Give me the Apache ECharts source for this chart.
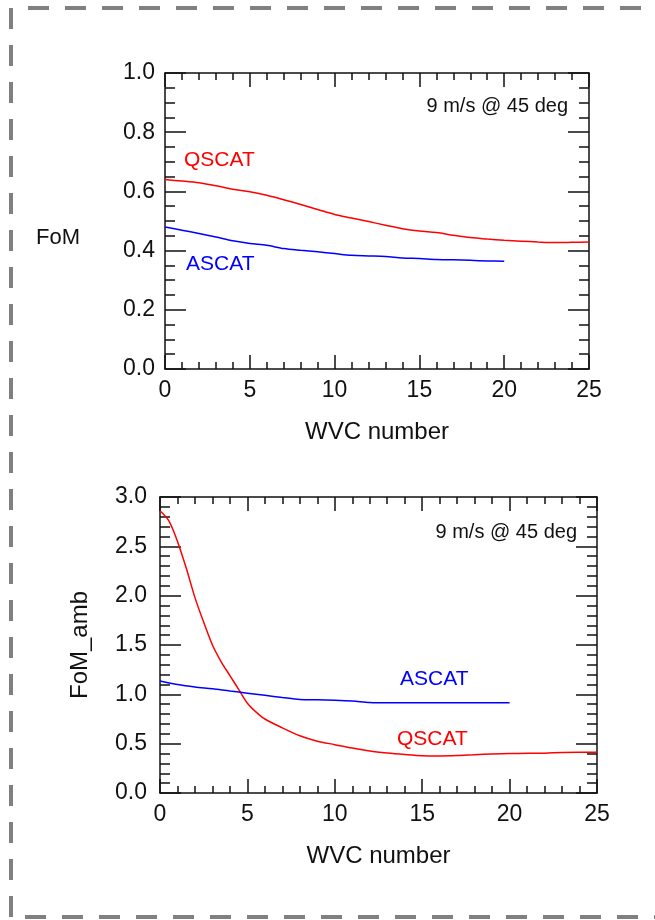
<!DOCTYPE html>
<html>
<head>
<meta charset="utf-8">
<style>
  html, body { margin: 0; padding: 0; background: #ffffff; }
  #chart { width: 655px; height: 920px; }
</style>
<script src="https://cdn.jsdelivr.net/npm/echarts@6/dist/echarts.min.js"></script>
</head>
<body>
<div id="chart"></div>
<script>
// ---- Data ----
const topX_Q = [0,1,2,3,4,5,6,7,8,9,10,11,12,13,14,15,16,17,18,19,20,21,22,23,24,25];
const topFoM_Q = [0.640,0.635,0.629,0.619,0.607,0.599,0.587,0.572,0.556,0.539,0.522,0.510,0.498,0.486,0.474,0.466,0.461,0.452,0.444,0.439,0.435,0.432,0.429,0.427,0.428,0.429];
const topX_A = [0,1,2,3,4,5,6,7,8,9,10,11,12,13,14,15,16,17,18,19,20];
const topFoM_A = [0.480,0.469,0.458,0.446,0.433,0.424,0.418,0.407,0.401,0.396,0.390,0.384,0.382,0.380,0.375,0.373,0.370,0.369,0.367,0.365,0.364];

const botX_Q = [0,0.5,1,1.5,2,2.5,3,3.5,4,4.5,5,5.5,6,7,8,9,10,11,12,13,14,15,16,17,18,19,20,21,22,23,24,25];
const botAmb_Q = [2.86,2.76,2.55,2.28,1.98,1.73,1.50,1.33,1.19,1.05,0.91,0.82,0.75,0.66,0.58,0.525,0.49,0.455,0.425,0.405,0.39,0.378,0.376,0.38,0.388,0.395,0.40,0.402,0.404,0.41,0.412,0.412];
const botX_A = [0,1,2,3,4,5,6,7,8,9,10,11,12,13,14,15,16,17,18,19,20];
const botAmb_A = [1.135,1.10,1.075,1.056,1.033,1.012,0.99,0.968,0.948,0.945,0.94,0.932,0.918,0.915,0.915,0.915,0.915,0.915,0.915,0.915,0.915];

const xTickLabels = ['0','5','10','15','20','25'];
const topYTicks = ['0.0','0.2','0.4','0.6','0.8','1.0'];
const botYTicks = ['0.0','0.5','1.0','1.5','2.0','2.5','3.0'];
const annotation = '9 m/s @ 45 deg';
const xTitle = 'WVC number';
const topYTitle = 'FoM';
const botYTitle = 'FoM_amb';
const seriesNames = ['QSCAT', 'ASCAT'];

// ---- Styling ----
const FONT = "'Liberation Sans', Arial, Helvetica, sans-serif";
const INK = '#111111';
const RED = '#ff0000';
const BLUE = '#0000ff';
const TICK_FS = 23;
const TITLE_FS = 24;

function pairs(xs, ys) { return xs.map((x, i) => [x, ys[i]]); }

function xAxis(gridIndex, position, show) {
  return {
    type: 'value', gridIndex, position, min: 0, max: 25, interval: 5,
    axisLine: { show: true, onZero: false, lineStyle: { color: INK, width: 1.5 } },
    axisTick: { show: true, inside: true, length: 14, lineStyle: { color: INK, width: 1.5 } },
    minorTick: { show: true, splitNumber: 5, length: 7, lineStyle: { color: INK, width: 1.5 } },
    splitLine: { show: false },
    axisLabel: show ? {
      show: true, margin: 10, fontFamily: FONT, fontSize: TICK_FS, color: INK,
      formatter: v => xTickLabels[Math.round(v / 5)]
    } : { show: false },
    name: show ? xTitle : '',
    nameLocation: 'middle', nameGap: show ? 51 : 0,
    nameTextStyle: { fontFamily: FONT, fontSize: TITLE_FS, color: INK }
  };
}

function yAxis(gridIndex, position, max, interval, minorSplit, labels, show, margin, nameCfg) {
  const a = {
    type: 'value', gridIndex, position, min: 0, max, interval,
    axisLine: { show: true, onZero: false, lineStyle: { color: INK, width: 1.5 } },
    axisTick: { show: true, inside: true, length: 21, lineStyle: { color: INK, width: 1.5 } },
    minorTick: { show: true, splitNumber: minorSplit, length: 10, lineStyle: { color: INK, width: 1.5 } },
    splitLine: { show: false },
    axisLabel: show ? {
      show: true, margin: margin, fontFamily: FONT, fontSize: TICK_FS, color: INK,
      formatter: v => labels[Math.round(v / interval)]
    } : { show: false }
  };
  if (nameCfg) Object.assign(a, nameCfg);
  return a;
}

const chart = echarts.init(document.getElementById('chart'), null, { renderer: 'canvas' });

const option = {
  animation: false,
  backgroundColor: '#ffffff',
  grid: [
    { left: 165, top: 73, width: 424, height: 296, containLabel: false, outerBoundsMode: 'none' },
    { left: 160, top: 497, width: 437, height: 296, containLabel: false, outerBoundsMode: 'none' }
  ],
  xAxis: [
    xAxis(0, 'bottom', true),
    xAxis(0, 'top', false),
    xAxis(1, 'bottom', true),
    xAxis(1, 'top', false)
  ],
  yAxis: [
    yAxis(0, 'left', 1.0, 0.2, 4, topYTicks, true, 10),
    yAxis(0, 'right', 1.0, 0.2, 4, topYTicks, false, 10),
    yAxis(1, 'left', 3.0, 0.5, 5, botYTicks, true, 13, {
      name: botYTitle, nameLocation: 'middle', nameGap: 68, nameRotate: 90,
      nameTextStyle: { fontFamily: FONT, fontSize: TITLE_FS, color: INK }
    }),
    yAxis(1, 'right', 3.0, 0.5, 5, botYTicks, false, 10)
  ],
  series: [
    { name: seriesNames[0], type: 'line', xAxisIndex: 0, yAxisIndex: 0, data: pairs(topX_Q, topFoM_Q),
      showSymbol: false, smooth: 0.3, lineStyle: { color: RED, width: 1.5 }, silent: true },
    { name: seriesNames[1], type: 'line', xAxisIndex: 0, yAxisIndex: 0, data: pairs(topX_A, topFoM_A),
      showSymbol: false, smooth: 0.3, lineStyle: { color: BLUE, width: 1.5 }, silent: true },
    { name: seriesNames[0], type: 'line', xAxisIndex: 2, yAxisIndex: 2, data: pairs(botX_Q, botAmb_Q),
      showSymbol: false, smooth: 0.3, lineStyle: { color: RED, width: 1.5 }, silent: true },
    { name: seriesNames[1], type: 'line', xAxisIndex: 2, yAxisIndex: 2, data: pairs(botX_A, botAmb_A),
      showSymbol: false, smooth: 0.3, lineStyle: { color: BLUE, width: 1.5 }, silent: true }
  ],
  graphic: [
    // dashed page frame
    { type: 'line', silent: true, shape: { x1: 28, y1: 8, x2: 700, y2: 8 },
      style: { stroke: '#808080', lineWidth: 4, lineDash: [21, 16] } },
    { type: 'line', silent: true, shape: { x1: 11, y1: 8, x2: 11, y2: 919 },
      style: { stroke: '#808080', lineWidth: 4, lineDash: [21, 16] } },
    { type: 'line', silent: true, shape: { x1: 25, y1: 917, x2: 700, y2: 917 },
      style: { stroke: '#808080', lineWidth: 4, lineDash: [21, 16] } },
    // top panel texts
    { type: 'text', left: 36, top: 227, style: { text: topYTitle, font: "22px " + FONT, fill: INK } },
    { type: 'text', right: 655 - 568, top: 96, style: { text: annotation, font: "20px " + FONT, fill: INK } },
    { type: 'text', left: 184, top: 150, style: { text: seriesNames[0], font: "21px " + FONT, fill: RED } },
    { type: 'text', left: 186, top: 254, style: { text: seriesNames[1], font: "21px " + FONT, fill: BLUE } },
    // bottom panel texts
    { type: 'text', right: 655 - 577, top: 522, style: { text: annotation, font: "20px " + FONT, fill: INK } },
    { type: 'text', left: 400, top: 669, style: { text: seriesNames[1], font: "21px " + FONT, fill: BLUE } },
    { type: 'text', left: 397, top: 729, style: { text: seriesNames[0], font: "21px " + FONT, fill: RED } }
  ]
};

chart.setOption(option);
</script>
</body>
</html>
